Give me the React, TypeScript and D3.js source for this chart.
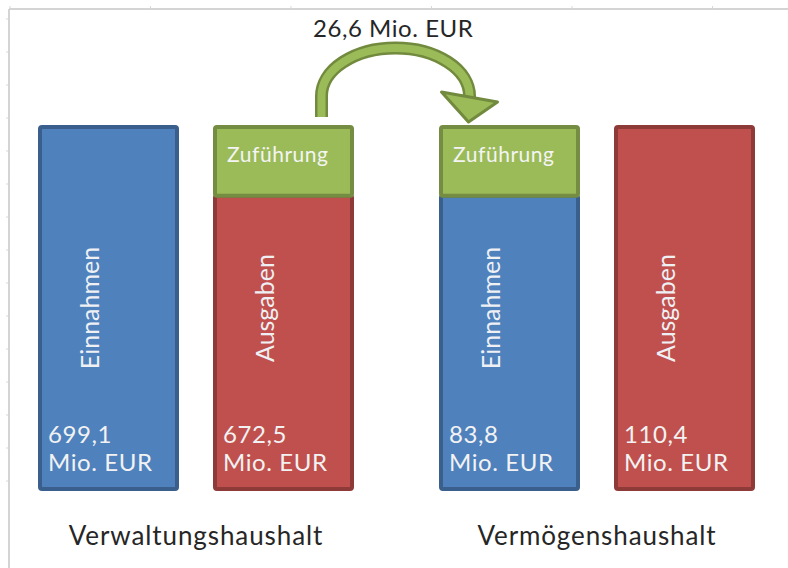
import React from "react";
import * as d3 from "d3";

const groups = ["Verwaltungshaushalt", "Vermögenshaushalt"];
const barNames = ["Einnahmen", "Ausgaben", "Einnahmen", "Ausgaben"];
const barGroups = [0, 0, 1, 1];
const barValues = ["699,1", "672,5", "83,8", "110,4"];
const barKinds = ["in", "out", "in", "out"];
const hasTransfer = [false, true, true, false];
const transferLabel = "Zuführung";
const transferValue = "26,6";
const unit = "Mio. EUR";

const W = 788;
const H = 568;
const FONT = "Lato, 'Open Sans', sans-serif";

const fills: Record<string, string> = { in: "#4f81bd", out: "#c0504d", tr: "#9bbb59" };
const strokes: Record<string, string> = { in: "#3a5f8c", out: "#8e3a38", tr: "#748d42" };

export default function App() {
  const gx = d3.scaleBand<string>().domain(groups).range([40, 753]).paddingInner(89 / 401);
  const ix = d3.scaleBand<number>().domain([0, 1]).range([0, gx.bandwidth()]).paddingInner(38 / 175);
  const y = d3.scaleLinear().domain([0, 1]).range([489, 127]);
  const trFrac = 0.81;

  const bars = barNames.map((name, i) => {
    const g = groups[barGroups[i]];
    const x0 = (gx(g) as number) + (ix(i % 2) as number);
    return { name, i, x0, w: ix.bandwidth(), kind: barKinds[i], value: barValues[i], tr: hasTransfer[i] };
  });

  const leftTicks = d3.range(19, 500, 33);
  const topTicks = d3.range(10, 788, 140.5);

  const b2 = bars[1];
  const b3 = bars[2];
  const sx = b2.x0 + b2.w / 2 + 38;
  const sy = y(1) - 10;
  const ex = b3.x0 + b3.w / 2 - 40;
  const ey = 96;
  const rx = (ex - sx) / 2;
  const ry = 48;
  const arcPath = `M ${sx} ${sy} L ${sx} ${ey} A ${rx} ${ry} 0 0 1 ${ex} ${ey} L ${ex - 0.5} ${ey + 2}`;
  const head = [
    [ex - 28, ey - 4],
    [ex + 28, ey + 6],
    [ex - 1, ey + 26],
  ];

  return (
    <svg width={W} height={H} style={{ position: "absolute", left: 0, top: 0 }} fontFamily={FONT}>
      <rect width={W} height={H} fill="#fff" />
      <line x1={9} y1={9} x2={W} y2={9} stroke="#d4d4d4" strokeWidth={2} />
      <line x1={9} y1={9} x2={9} y2={H} stroke="#d4d4d4" strokeWidth={2} />
      {leftTicks.map((t) => (
        <line key={"l" + t} x1={6} x2={9} y1={t} y2={t} stroke="#d8d8d8" strokeWidth={1} />
      ))}
      {topTicks.map((t) => (
        <line key={"t" + t} x1={t} x2={t} y1={6} y2={9} stroke="#d8d8d8" strokeWidth={1} />
      ))}

      {bars.map((b) => {
        const top = y(1);
        const bottom = y(0);
        const split = b.tr ? y(trFrac) : top;
        const tx = b.x0 + 59;
        const cy = (top + bottom) / 2;
        return (
          <g key={b.i}>
            <rect x={b.x0} y={split} width={b.w} height={bottom - split} fill={fills[b.kind]} stroke={strokes[b.kind]} strokeWidth={4} rx={2} />
            {b.tr && (
              <g>
                <rect x={b.x0} y={top} width={b.w} height={split - top} fill={fills.tr} stroke={strokes.tr} strokeWidth={4} rx={2} />
                <text x={b.x0 + 12} y={top + 35} fill="#f4f4f4" fontSize={21} letterSpacing={0.55}>{transferLabel}</text>
              </g>
            )}
            <text transform={`translate(${tx},${cy}) rotate(-90)`} textAnchor="middle" fill="#eef0f4" fontSize={25}>{b.name}</text>
            <text x={b.x0 + 8} y={443} fill="#f2f2f2" fontSize={24} letterSpacing={0.6}>{b.value}</text>
            <text x={b.x0 + 8} y={471} fill="#f2f2f2" fontSize={24} letterSpacing={0.6}>{unit}</text>
          </g>
        );
      })}

      <path d={arcPath} fill="none" stroke="#718a3d" strokeWidth={13} />
      <path d={arcPath} fill="none" stroke="#9bbb59" strokeWidth={8} />
      <polygon points={head.map((p) => p.join(",")).join(" ")} fill="#9bbb59" stroke="#718a3d" strokeWidth={3} strokeLinejoin="round" />
      <text x={313} y={37} fill="#262626" fontSize={24} letterSpacing={0.55}>{`${transferValue} ${unit}`}</text>

      {groups.map((g) => (
        <text key={g} x={(gx(g) as number) + gx.bandwidth() / 2} y={545} textAnchor="middle" fill="#262626" fontSize={26} letterSpacing={0.9}>{g}</text>
      ))}
    </svg>
  );
}
